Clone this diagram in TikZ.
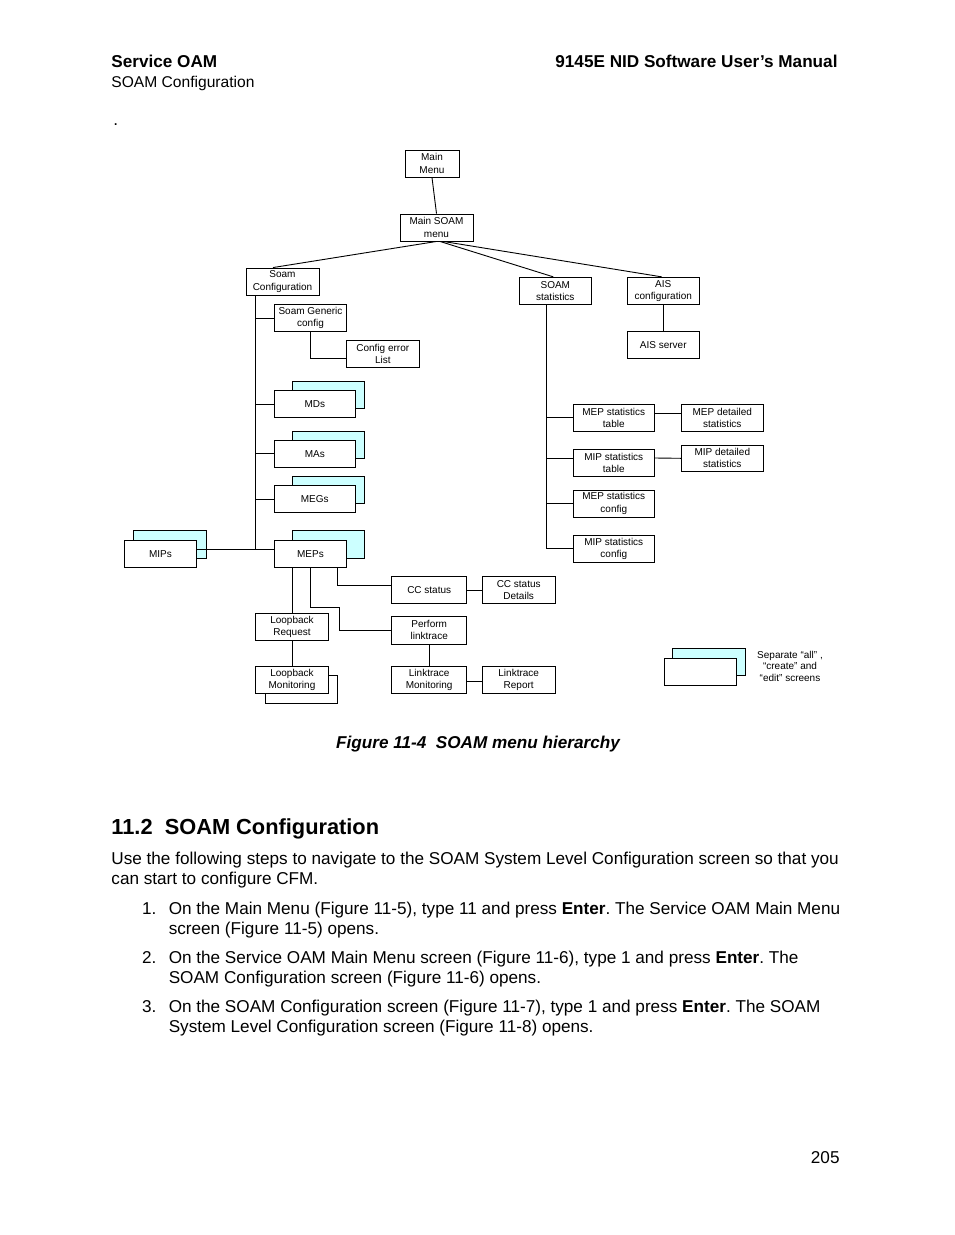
\documentclass[tikz,border=0pt]{standalone}
\usepackage{fontspec}
\setmainfont{Liberation Sans}
\definecolor{lcyan}{HTML}{CCFFFF}
\frenchspacing
\begin{document}
\begin{tikzpicture}[x=1pt,y=-1pt,line width=0.9pt,
  box/.style={draw,fill=white,inner sep=0pt,align=center,font=\fontsize{10}{12.2}\selectfont},
  back/.style={draw,fill=lcyan,inner sep=0pt},
  backw/.style={draw,fill=white,inner sep=0pt},
  txt/.style={inner sep=0pt,anchor=base west,font=\fontsize{17.15}{20}\selectfont},
  conn/.style={draw,line width=0.9pt}]
\useasboundingbox (0,0) rectangle (954,1235);
% header
\node[txt,font=\bfseries\fontsize{17.15}{20}\selectfont] (hl) at (111,67) {Service OAM};
\node[txt,anchor=base east,font=\bfseries\fontsize{17.15}{20}\selectfont] (hr) at (838,67) {9145E NID Software User’s Manual};
\node[txt,font=\fontsize{15.6}{18}\selectfont] (hs) at (111,87) {SOAM Configuration};
\node[txt] (dot) at (113,125) {.};
% diagram boxes
\node[box,minimum width=54pt,minimum height=27pt] (mainmenu) at (432,163.5) {Main\\Menu};
\node[box,minimum width=73pt,minimum height=27pt] (mainsoam) at (436.5,227.5) {Main SOAM\\menu};
\node[box,minimum width=73pt,minimum height=27pt] (soamcfg) at (282.5,281.5) {Soam\\Configuration};
\node[box,minimum width=72pt,minimum height=27pt] (soamstat) at (555.3,290.8) {SOAM\\statistics};
\node[box,minimum width=72pt,minimum height=27pt] (aiscfg) at (663.3,290.8) {AIS\\configuration};
\node[box,minimum width=72pt,minimum height=27pt] (aissrv) at (663.3,344.8) {AIS server};
\node[box,minimum width=72.4pt,minimum height=27.4pt] (soamgen) at (310.5,318) {Soam Generic\\config};
\node[box,minimum width=73pt,minimum height=26.6pt] (cfgerr) at (382.8,354) {Config error\\List};
\node[back,minimum width=72pt,minimum height=27pt] (mdsb) at (328.3,394.8) {};
\node[box,minimum width=81pt,minimum height=26.6pt] (mds) at (314.8,404) {MDs};
\node[back,minimum width=72pt,minimum height=27pt] (masb) at (328.3,444.8) {};
\node[box,minimum width=81pt,minimum height=27pt] (mas) at (314.8,453.8) {MAs};
\node[back,minimum width=72pt,minimum height=26.6pt] (megsb) at (328.3,490) {};
\node[box,minimum width=81pt,minimum height=27pt] (megs) at (314.8,499.2) {MEGs};
\node[back,minimum width=72pt,minimum height=27.7pt] (mepsb) at (328.3,544.2) {};
\node[box,minimum width=72.4pt,minimum height=27.3pt] (meps) at (310.5,553.7) {MEPs};
\node[back,minimum width=73pt,minimum height=27.7pt] (mipsb) at (169.8,544.2) {};
\node[box,minimum width=72.4pt,minimum height=27.3pt] (mips) at (160.5,553.7) {MIPs};
\node[box,minimum width=81pt,minimum height=26.7pt] (mepst) at (613.8,417.7) {MEP statistics\\table};
\node[box,minimum width=82pt,minimum height=26.7pt] (mepdet) at (722.3,417.7) {MEP detailed\\statistics};
\node[box,minimum width=81pt,minimum height=26.7pt] (mipst) at (613.8,462.7) {MIP statistics\\table};
\node[box,minimum width=82pt,minimum height=26pt] (mipdet) at (722.3,458.3) {MIP detailed\\statistics};
\node[box,minimum width=81pt,minimum height=27pt] (mepcfg) at (613.8,503.5) {MEP statistics\\config};
\node[box,minimum width=81pt,minimum height=26.7pt] (mipcfg) at (613.8,548.7) {MIP statistics\\config};
\node[box,minimum width=75pt,minimum height=26.6pt] (ccst) at (429.2,590) {CC status};
\node[box,minimum width=73.3pt,minimum height=26.6pt] (ccdet) at (518.7,590) {CC status\\Details};
\node[box,minimum width=75pt,minimum height=28pt] (perf) at (429.2,630) {Perform\\linktrace};
\node[box,minimum width=72.6pt,minimum height=26.7pt] (lbreq) at (292,626.7) {Loopback\\Request};
\node[backw,minimum width=72pt,minimum height=27.6pt] (lbmonb) at (301.7,689.5) {};
\node[box,minimum width=72.6pt,minimum height=26.6pt] (lbmon) at (292,680) {Loopback\\Monitoring};
\node[box,minimum width=75pt,minimum height=26.6pt] (ltmon) at (429.2,680) {Linktrace\\Monitoring};
\node[box,minimum width=73.3pt,minimum height=26.6pt] (ltrep) at (518.7,680) {Linktrace\\Report};
% legend
\node[back,minimum width=73.4pt,minimum height=27pt] (legb) at (709,661.8) {};
\node[box,minimum width=72.4pt,minimum height=27pt] (leg) at (700.5,671.8) {};
\node[inner sep=0pt,align=center,font=\fontsize{10}{11.5}\selectfont] (legt) at (790,666) {Separate “all” ,\\“create” and\\“edit” screens};
% connectors
\draw (mainmenu.south) -- (mainsoam.north);
\draw (mainsoam.south) -- ([xshift=-9.5pt]soamcfg.north);
\draw ([xshift=3.5pt]mainsoam.south) -- ([xshift=-2pt]soamstat.north);
\draw ([xshift=6.8pt]mainsoam.south) -- ([xshift=-1.6pt]aiscfg.north);
\coordinate (cfgbus) at ([xshift=9.7pt]soamcfg.south west);
\draw (cfgbus) |- ([yshift=4.4pt]meps.west);
\draw ([yshift=4.4pt]mips.east) -- ([yshift=4.4pt]meps.west);
\draw (cfgbus |- soamgen.west) -- (soamgen.west);
\draw (cfgbus |- mds.west) -- (mds.west);
\draw (cfgbus |- mas.west) -- (mas.west);
\draw (cfgbus |- megs.west) -- (megs.west);
\draw (soamgen.south) |- ([yshift=-4.3pt]cfgerr.west);
\coordinate (statbus) at ([xshift=-9.3pt]soamstat.south);
\draw (statbus) |- (mipcfg.west);
\draw (statbus |- mepst.west) -- (mepst.west);
\draw (statbus |- mipst.west) ++(0,-4.7) -- ([yshift=4.7pt]mipst.west);
\draw (statbus |- mepcfg.west) -- (mepcfg.west);
\draw ([yshift=4.3pt]mepst.east) -- ([yshift=4.3pt]mepdet.west);
\draw ([yshift=4.7pt]mipst.east) -- (mipdet.west);
\draw (aiscfg.south) -- (aissrv.north);
\draw (lbreq.north |- meps.south) -- (lbreq.north);
\draw (lbreq.south) -- (lbmon.north);
\draw (meps.south) -- ++(0,39.6) -- ++(29,0) |- (perf.west);
\draw ([xshift=26.8pt]meps.south) |- ([yshift=5pt]ccst.west);
\draw (ccst.east) -- (ccdet.west);
\draw (perf.south) -- (ltmon.north);
\draw ([yshift=-1pt]ltmon.east) -- ([yshift=-1pt]ltrep.west);
% caption
\node[txt,anchor=base,font=\bfseries\itshape\fontsize{17.15}{20}\selectfont] (cap) at (478,748) {Figure 11-4\hspace{0.278em} SOAM menu hierarchy};
% section
\node[txt,font=\bfseries\fontsize{21.8}{24}\selectfont] (sec) at (111,834) {11.2\hspace{0.278em} SOAM Configuration};
\node[txt] (p1) at (111,864) {Use the following steps to navigate to the SOAM System Level Configuration screen so that you};
\node[txt] (p2) at (111,884) {can start to configure CFM.};
\node[txt] (n1) at (141.7,914) {1.};
\node[txt] (l1a) at (168.3,914) {On the Main Menu (Figure 11-5), type 11 and press \textbf{Enter}. The Service OAM Main Menu};
\node[txt] (l1b) at (168.3,934) {screen (Figure 11-5) opens.};
\node[txt] (n2) at (141.7,963) {2.};
\node[txt] (l2a) at (168.3,963) {On the Service OAM Main Menu screen (Figure 11-6), type 1 and press \textbf{Enter}. The};
\node[txt] (l2b) at (168.3,983) {SOAM Configuration screen (Figure 11-6) opens.};
\node[txt] (n3) at (141.7,1012) {3.};
\node[txt] (l3a) at (168.3,1012) {On the SOAM Configuration screen (Figure 11-7), type 1 and press \textbf{Enter}. The SOAM};
\node[txt] (l3b) at (168.3,1032) {System Level Configuration screen (Figure 11-8) opens.};
\node[txt,anchor=base east] (pg) at (840,1163) {205};
\end{tikzpicture}
\end{document}
